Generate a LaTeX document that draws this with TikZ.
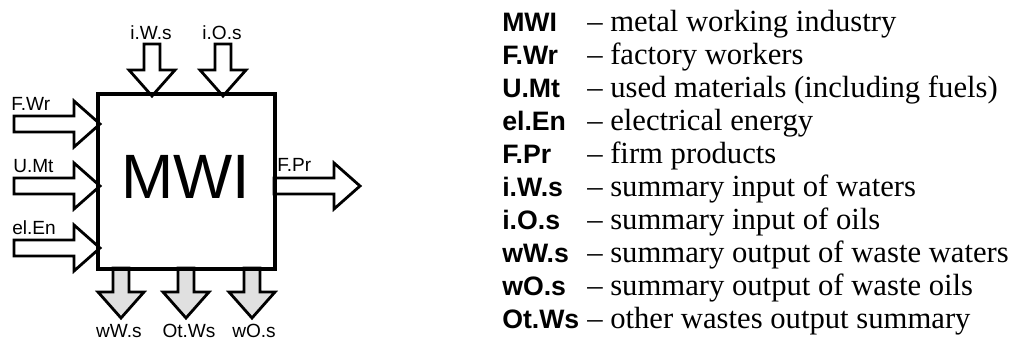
\documentclass[tikz,border=0pt]{standalone}
\usepackage{fontspec}
\setmainfont{Liberation Serif}
\newfontfamily\arialf{Liberation Sans}
\tikzset{
  arrowline/.style={draw=black, line width=2.1pt, line join=miter, fill=white},
  outarrow/.style={arrowline, fill=black!12},
  blockarrow/.pic={
    \path[pic actions] (0,-8) -- (#1,-8) -- (#1,-23) -- ({#1+26},0) -- (#1,23) -- (#1,8) -- (0,8) -- cycle;
  },
  lbl/.style={font=\arialf\fontsize{14.3pt}{16pt}\selectfont, inner sep=0pt},
  abbr/.style={font=\arialf\bfseries\fontsize{20pt}{24pt}\selectfont, inner sep=0pt, anchor=base west},
  desc/.style={font=\fontsize{23pt}{26pt}\selectfont, inner sep=0pt, anchor=base west},
}
\begin{document}
\begin{tikzpicture}[x=0.75pt, y=-0.75pt]
\useasboundingbox (0,0) rectangle (1029,345);
% main box
\node[draw, line width=2.2pt, minimum width=175*0.75pt, minimum height=173*0.75pt, inner sep=0pt] (mwi) at (186.5,181.5) {};
\node[font=\arialf\fontsize{47pt}{50pt}\selectfont, inner sep=0pt, anchor=base] (mwit) at (186,199) {MWI};
% top input arrows
\pic[rotate=-90, arrowline] at (152,44) {blockarrow=26};
\pic[rotate=-90, arrowline] at (223,44) {blockarrow=26};
\node[lbl, anchor=base] (iws) at (151,40) {i.W.s};
\node[lbl, anchor=base] (ios) at (222,40) {i.O.s};
% left input arrows
\pic[arrowline] at (14,124) {blockarrow=60};
\pic[arrowline] at (14,186) {blockarrow=60};
\pic[arrowline] at (14,248) {blockarrow=60};
\node[lbl, anchor=base west] (fwr) at (11,111) {F.Wr};
\node[lbl, anchor=base west] (umt) at (13,173) {U.Mt};
\node[lbl, anchor=base west] (elen) at (12,235) {el.En};
% output product arrow
\pic[arrowline] at (274,186) {blockarrow=60};
\node[lbl, anchor=base west] (fpr) at (277,172) {F.Pr};
% bottom output arrows
\pic[rotate=-90, outarrow] at (121,268) {blockarrow=24};
\pic[rotate=-90, outarrow] at (186,268) {blockarrow=24};
\pic[rotate=-90, outarrow] at (252,268) {blockarrow=24};
\node[lbl, anchor=base] (wws) at (119,338) {wW.s};
\node[lbl, anchor=base] (otws) at (189,338) {Ot.Ws};
\node[lbl, anchor=base] (wos) at (254,338) {wO.s};
% redraw box border on top
\draw[line width=2.2pt] (mwi.north west) rectangle (mwi.south east);
% legend
\foreach \i/\a/\d in {0/MWI/metal working industry,
  1/F.Wr/factory workers,
  2/U.Mt/used materials (including fuels),
  3/el.En/electrical energy,
  4/F.Pr/firm products,
  5/i.W.s/summary input of waters,
  6/i.O.s/summary input of oils,
  7/wW.s/summary output of waste waters,
  8/wO.s/summary output of waste oils,
  9/Ot.Ws/other wastes output summary}{
  \node[abbr] (a\i) at (502,{32+33*\i}) {\a};
  \node[desc] (d\i) at (587,{32+33*\i}) {-- \d};
}
\end{tikzpicture}
\end{document}
